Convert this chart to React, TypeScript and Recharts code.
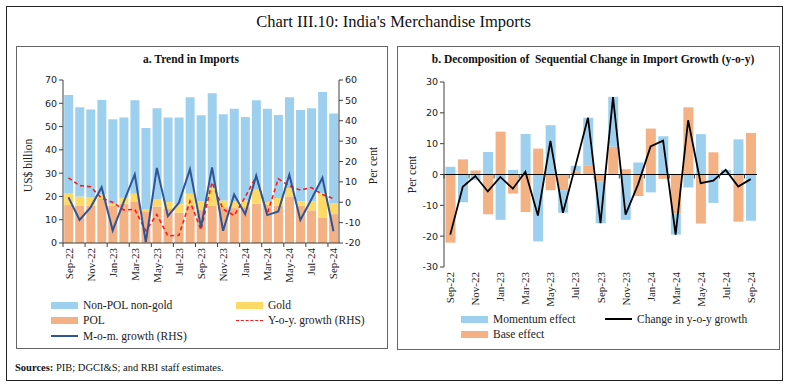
import { ComposedChart, Bar, Line, XAxis, YAxis, ReferenceLine, Label } from "recharts";

// months shown on both panels
const months = [
    "Sep-22", "Oct-22", "Nov-22", "Dec-22", "Jan-23", "Feb-23", "Mar-23", "Apr-23", "May-23",
    "Jun-23", "Jul-23", "Aug-23", "Sep-23", "Oct-23", "Nov-23", "Dec-23", "Jan-24", "Feb-24",
    "Mar-24", "Apr-24", "May-24", "Jun-24", "Jul-24", "Aug-24", "Sep-24",
];

// panel a: US$ billion
const polImports = [16.3, 16.1, 16.1, 18.9, 15.9, 16.9, 17.9, 13.6, 15.7, 14.6, 13.0, 16.2, 14.2, 16.0, 15.4, 15.0, 15.4, 16.9, 16.4, 16.0, 20.0, 16.0, 14.0, 11.0, 12.4];
const goldImports = [5.1, 3.9, 3.6, 1.9, 0.8, 2.5, 3.2, 1.0, 3.2, 3.0, 3.7, 5.0, 3.7, 7.6, 2.9, 2.7, 2.9, 6.0, 1.2, 3.3, 3.6, 1.9, 3.9, 10.4, 4.7];
const nonPolNonGold = [42.2, 38.3, 37.6, 40.6, 36.4, 34.5, 40.2, 34.8, 39.0, 36.3, 37.2, 41.4, 37.0, 40.7, 37.0, 39.9, 35.8, 38.4, 40.0, 35.7, 39.0, 39.2, 40.0, 43.5, 38.5];
// panel a: per cent (RHS)
const momGrowth = [2.4, -8.7, -2.5, 7.4, -13.8, 0.2, 13.7, -19.6, 16.8, -6.8, -0.2, 16.2, -12.2, 17.1, -14.0, 3.8, -5.9, 13.0, -6.3, -4.5, 13.5, -8.7, 1.5, 12.0, -14.2];
const yoyGrowth = [12.0, 8.2, 7.6, 2.0, 0.0, -3.8, -3.5, -14.0, -6.0, -16.5, -16.2, 0.5, -13.6, 9.8, -3.4, -6.5, 2.5, 12.8, -5.7, 11.5, 8.0, 6.0, 7.2, 3.8, 1.8];

// panel b: per cent
const momentumEffect = [2.5, -9.0, -1.8, 7.3, -14.7, 1.5, 13.1, -21.7, 16.0, -7.3, 1.8, 15.4, -13.5, 16.2, -14.7, 3.9, -5.8, 12.4, -6.8, -4.2, 13.1, -9.2, 1.5, 11.4, -15.0];
const baseEffect = [-22.1, 4.9, 1.3, -12.9, 13.9, -6.2, -12.2, 8.4, -5.1, -5.1, 1.0, 3.0, -2.3, 9.0, 1.7, -7.0, 14.9, -1.4, -12.7, 21.8, -15.9, 7.2, 0.0, -15.3, 13.5];
const yoyChange = [-19.5, -4.0, -0.5, -5.5, -0.8, -4.6, 0.9, -13.3, 10.9, -12.4, 2.8, 18.4, -15.8, 25.1, -13.0, -3.2, 9.1, 11.0, -19.5, 17.6, -2.8, -2.0, 1.5, -3.9, -1.5];

const usdTicks = [0, 10, 20, 30, 40, 50, 60, 70];
const pctTicks = [-20, -10, 0, 10, 20, 30, 40, 50, 60];
const decompTicks = [-30, -20, -10, 0, 10, 20, 30];

const trendData = months.map((m, i) => ({
    month: m,
    pol: polImports[i],
    gold: goldImports[i],
    nonPol: nonPolNonGold[i],
    mom: momGrowth[i],
    yoy: yoyGrowth[i],
}));

const decompData = months.map((m, i) => ({
    month: m,
    base: baseEffect[i],
    momentum: momentumEffect[i],
    change: yoyChange[i],
}));

const BLUE = "#9dd0ef";
const ORANGE = "#f4b183";
const GOLD = "#ffd966";
const NAVY = "#2f5597";
const RED = "#ff1a1a";
const SERIF = "'Liberation Serif', 'DejaVu Serif', serif";
const SANS = "'DejaVu Sans', Verdana, sans-serif";
const AXIS = "#404040";

// chart a geometry
const A_W = 370;
const A_H = 219;
const A_M = { top: 10, right: 7, bottom: 2, left: 7 };
const A_YW = 40;
const A_XH = 44;
const A_STEP = (A_W - A_M.left - A_M.right - 2 * A_YW) / months.length;

// chart b geometry
const B_W = 378;
const B_H = 239;
const B_M = { top: 12, right: 19, bottom: 2, left: 6 };
const B_YW = 40;
const B_XH = 40;
const B_STEP = (B_W - B_M.left - B_M.right - B_YW) / months.length;
const B_PLOT_H = B_H - B_M.top - B_M.bottom - B_XH;

function MonthTick(props: any) {
    const { x, y, payload, half, markY, gap } = props;
    const ty = y + gap;
    const my = markY === undefined ? y : markY;
    return (
        <g>
            <line x1={x - half} x2={x - half} y1={my} y2={my + 4} stroke={AXIS} strokeWidth={1} />
            <text
                x={x}
                y={ty}
                transform={`rotate(-90 ${x} ${ty})`}
                textAnchor="end"
                dominantBaseline="central"
                fontFamily={SERIF}
                fontSize={11}
                fill="#222"
            >
                {payload.value}
            </text>
        </g>
    );
}

function axisTitle(text: string, dx: number, dy = 0) {
    return ({ viewBox }: any) => {
        const cx = viewBox.x + dx;
        const cy = viewBox.y + viewBox.height / 2 + dy;
        return (
            <text
                x={cx}
                y={cy}
                transform={`rotate(-90 ${cx} ${cy})`}
                textAnchor="middle"
                dominantBaseline="central"
                fontFamily={SERIF}
                fontSize={11.5}
                fill="#222"
            >
                {text}
            </text>
        );
    };
}

function Swatch({ color }: { color: string }) {
    return <span style={{ display: "inline-block", width: 27, height: 7, background: color, marginRight: 5 }} />;
}

function LineKey({ color, dashed, width = 2 }: { color: string; dashed?: boolean; width?: number }) {
    return (
        <span
            style={{
                display: "inline-block",
                width: 27,
                height: 0,
                borderTop: `${width}px ${dashed ? "dashed" : "solid"} ${color}`,
                marginRight: 5,
                verticalAlign: "middle",
            }}
        />
    );
}

function LegendItem({ left, top, children }: { left: number; top: number; children: any }) {
    return (
        <div
            style={{
                position: "absolute",
                left,
                top,
                height: 14,
                display: "flex",
                alignItems: "center",
                fontFamily: SERIF,
                fontSize: 11.5,
                color: "#222",
                whiteSpace: "nowrap",
            }}
        >
            {children}
        </div>
    );
}

const tickStyle = { fontFamily: SANS, fontSize: 9.5, fill: "#222" };

export default function App() {
    return (
        <div style={{ position: "absolute", left: 0, top: 0, width: 787, height: 387, background: "#fff", overflow: "hidden" }}>
            <div style={{ position: "absolute", left: 6, top: 6, width: 775, height: 373, border: "1.5px solid #222" }} />
            <div
                style={{
                    position: "absolute",
                    left: 0,
                    top: 12,
                    width: 787,
                    textAlign: "center",
                    fontFamily: SERIF,
                    fontSize: 16.5,
                    color: "#111",
                }}
            >
                Chart III.10: India's Merchandise Imports
            </div>

            {/* panel a */}
            <div style={{ position: "absolute", left: 16, top: 46, width: 370, height: 301, border: "1px solid #666" }} />
            <div
                style={{
                    position: "absolute",
                    left: 16,
                    top: 53,
                    width: 350,
                    textAlign: "center",
                    fontFamily: SERIF,
                    fontWeight: "bold",
                    fontSize: 11.5,
                    color: "#111",
                }}
            >
                a. Trend in Imports
            </div>
            <div style={{ position: "absolute", left: 16, top: 70 }}>
                <ComposedChart width={A_W} height={A_H} data={trendData} margin={A_M} barCategoryGap={1.2}>
                    <XAxis
                        dataKey="month"
                        interval={1}
                        height={A_XH}
                        stroke={AXIS}
                        tickLine={false}
                        tickSize={0}
                        tickMargin={0}
                        tick={<MonthTick half={A_STEP / 2} gap={5} />}
                    />
                    <YAxis
                        yAxisId="usd"
                        domain={[0, 70]}
                        ticks={usdTicks}
                        width={A_YW}
                        stroke={AXIS}
                        tickSize={4}
                        tick={tickStyle}
                        interval={0}
                    >
                        <Label content={axisTitle("US$ billion", 5, 4)} />
                    </YAxis>
                    <YAxis
                        yAxisId="pct"
                        orientation="right"
                        domain={[-20, 60]}
                        ticks={pctTicks}
                        width={A_YW}
                        stroke={AXIS}
                        tickSize={4}
                        tick={tickStyle}
                        interval={0}
                    >
                        <Label content={axisTitle("Per cent", 34, 4)} />
                    </YAxis>
                    <Bar yAxisId="usd" dataKey="pol" stackId="imp" fill={ORANGE} isAnimationActive={false} />
                    <Bar yAxisId="usd" dataKey="gold" stackId="imp" fill={GOLD} isAnimationActive={false} />
                    <Bar yAxisId="usd" dataKey="nonPol" stackId="imp" fill={BLUE} isAnimationActive={false} />
                    <Line
                        yAxisId="pct"
                        dataKey="yoy"
                        stroke={RED}
                        strokeWidth={1.6}
                        strokeDasharray="4 3"
                        dot={false}
                        isAnimationActive={false}
                    />
                    <Line
                        yAxisId="pct"
                        dataKey="mom"
                        stroke={NAVY}
                        strokeWidth={2}
                        dot={false}
                        isAnimationActive={false}
                    />
                </ComposedChart>
            </div>
            <LegendItem left={51} top={298}>
                <Swatch color={BLUE} />Non-POL non-gold
            </LegendItem>
            <LegendItem left={236} top={298}>
                <Swatch color={GOLD} />Gold
            </LegendItem>
            <LegendItem left={51} top={313}>
                <Swatch color={ORANGE} />POL
            </LegendItem>
            <LegendItem left={236} top={313}>
                <LineKey color={RED} dashed width={1.5} />Y-o-y. growth (RHS)
            </LegendItem>
            <LegendItem left={51} top={329}>
                <LineKey color={NAVY} />M-o-m. growth (RHS)
            </LegendItem>

            {/* panel b */}
            <div style={{ position: "absolute", left: 397, top: 46, width: 381, height: 302, border: "1px solid #666" }} />
            <div
                style={{
                    position: "absolute",
                    left: 402,
                    top: 53,
                    width: 382,
                    textAlign: "center",
                    fontFamily: SERIF,
                    fontWeight: "bold",
                    fontSize: 11.5,
                    color: "#111",
                    whiteSpace: "nowrap",
                }}
            >
                b. Decomposition of&nbsp; Sequential Change in Import Growth (y-o-y)
            </div>
            <div style={{ position: "absolute", left: 398, top: 70 }}>
                <ComposedChart
                    width={B_W}
                    height={B_H}
                    data={decompData}
                    margin={B_M}
                    stackOffset="sign"
                    barCategoryGap={1.5}
                >
                    <XAxis
                        dataKey="month"
                        interval={1}
                        height={B_XH}
                        axisLine={false}
                        tickLine={false}
                        tickSize={0}
                        tickMargin={0}
                        tick={<MonthTick half={B_STEP / 2} gap={5} markY={B_M.top + B_PLOT_H / 2} />}
                    />
                    <YAxis
                        domain={[-30, 30]}
                        ticks={decompTicks}
                        width={B_YW}
                        stroke={AXIS}
                        tickSize={4}
                        tick={tickStyle}
                        interval={0}
                    >
                        <Label content={axisTitle("Per cent", 8)} />
                    </YAxis>
                    <Bar dataKey="base" stackId="eff" fill={ORANGE} isAnimationActive={false} />
                    <Bar dataKey="momentum" stackId="eff" fill={BLUE} isAnimationActive={false} />
                    <ReferenceLine y={0} stroke="#000" strokeWidth={1.2} />
                    <Line dataKey="change" stroke="#000" strokeWidth={1.8} dot={false} isAnimationActive={false} />
                </ComposedChart>
            </div>
            <LegendItem left={461} top={312}>
                <Swatch color={BLUE} />Momentum effect
            </LegendItem>
            <LegendItem left={605} top={312}>
                <LineKey color="#000" />Change in y-o-y growth
            </LegendItem>
            <LegendItem left={461} top={327}>
                <Swatch color={ORANGE} />Base effect
            </LegendItem>

            <div
                style={{
                    position: "absolute",
                    left: 15,
                    top: 362,
                    fontFamily: SERIF,
                    fontSize: 10.5,
                    color: "#111",
                }}
            >
                <b>Sources:</b> PIB; DGCI&amp;S; and RBI staff estimates.
            </div>
        </div>
    );
}
